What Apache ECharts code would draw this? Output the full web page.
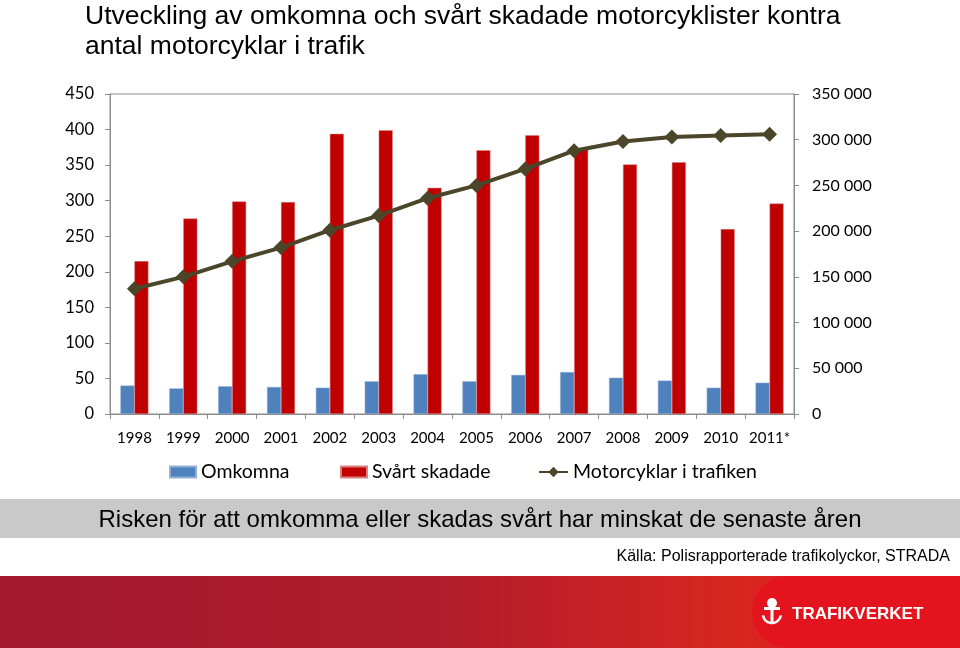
<!DOCTYPE html>
<html>
<head>
<meta charset="utf-8">
<script src="https://cdn.jsdelivr.net/npm/echarts@6/dist/echarts.min.js"></script>
<style>
html,body{margin:0;padding:0;background:#fff;}
#chart{width:960px;height:648px;}
</style>
</head>
<body>
<div id="chart"></div>
<script>
const years = ['1998','1999','2000','2001','2002','2003','2004','2005','2006','2007','2008','2009','2010','2011*'];
const omkomna = [40, 36, 39, 38, 37, 46, 56, 46, 55, 59, 51, 47, 37, 44];
const svartSkadade = [215, 275, 299, 298, 394, 399, 318, 371, 392, 373, 351, 354, 260, 296];
const motorcyklar = [137000, 150000, 167000, 182000, 201000, 217000, 236000, 250000, 268000, 288000, 298000, 303000, 304500, 306000];
const leftTicks = {min: 0, max: 450, interval: 50};
const rightTicks = {min: 0, max: 350000, interval: 50000};

const chart = echarts.init(document.getElementById('chart'), null, {renderer: 'canvas'});
const axisFont = 'Lato, "Open Sans", sans-serif';
const arialFont = '"Liberation Sans", Arial, sans-serif';
const fmtThousands = v => String(v).replace(/\B(?=(\d{3})+(?!\d))/g, ' ');
const legendText = {fontFamily: axisFont, fontSize: 19.5, color: '#000'};

chart.setOption({
  animation: false,
  backgroundColor: '#fff',
  title: {
    text: 'Utveckling av omkomna och svårt skadade motorcyklister kontra\nantal motorcyklar i trafik',
    left: 80, top: -3,
    textStyle: {fontFamily: arialFont, fontSize: 26.5, fontWeight: 'normal', color: '#000', lineHeight: 30}
  },
  grid: {left: 110, right: 166, top: 94, bottom: 234, show: true, borderColor: '#8c8c8c', borderWidth: 1, backgroundColor: 'transparent'},
  legend: [
    {left: 164, top: 457, itemWidth: 26, itemHeight: 11, textStyle: legendText,
     data: [{name: 'Omkomna', icon: 'rect'}]},
    {left: 335, top: 457, itemWidth: 26, itemHeight: 11, textStyle: legendText,
     data: [{name: 'Svårt skadade', icon: 'rect'}]},
    {left: 533, top: 457, itemWidth: 29, itemHeight: 13, textStyle: legendText,
     data: [{name: 'Motorcyklar i trafiken'}]}
  ],
  xAxis: {
    type: 'category', data: years, boundaryGap: true,
    axisLine: {lineStyle: {color: '#8c8c8c'}},
    axisTick: {show: true, length: 5, lineStyle: {color: '#8c8c8c'}},
    axisLabel: {fontFamily: axisFont, fontSize: 15, color: '#000', margin: 17, interval: 0}
  },
  yAxis: [
    {
      type: 'value', min: leftTicks.min, max: leftTicks.max, interval: leftTicks.interval,
      axisLine: {show: true, lineStyle: {color: '#8c8c8c'}},
      axisTick: {show: true, length: 5, lineStyle: {color: '#8c8c8c'}},
      splitLine: {show: false},
      axisLabel: {fontFamily: axisFont, fontSize: 16.5, color: '#000', margin: 16}
    },
    {
      type: 'value', min: rightTicks.min, max: rightTicks.max, interval: rightTicks.interval,
      position: 'right',
      axisLine: {show: true, lineStyle: {color: '#8c8c8c'}},
      axisTick: {show: true, length: 5, lineStyle: {color: '#8c8c8c'}},
      splitLine: {show: false},
      axisLabel: {fontFamily: axisFont, fontSize: 16, color: '#000', margin: 18, formatter: fmtThousands}
    }
  ],
  series: [
    {name: 'Omkomna', type: 'bar', data: omkomna, barWidth: 14, barGap: '0%',
     itemStyle: {color: '#4f81bd', borderColor: '#8fb0d8', borderWidth: 0.5}},
    {name: 'Svårt skadade', type: 'bar', data: svartSkadade, barWidth: 14, barGap: '0%',
     itemStyle: {color: '#c00000', borderColor: '#d98080', borderWidth: 0.5}},
    {name: 'Motorcyklar i trafiken', type: 'line', yAxisIndex: 1, data: motorcyklar,
     symbol: 'diamond', symbolSize: 15,
     lineStyle: {color: '#4b4629', width: 4},
     itemStyle: {color: '#4b4629'}, z: 5}
  ],
  graphic: [
    {type: 'rect', shape: {x: 0, y: 499, width: 960, height: 39}, style: {fill: '#c9c9c9'}, silent: true},
    {type: 'text', x: 480, y: 520, style: {text: 'Risken för att omkomma eller skadas svårt har minskat de senaste åren', fontFamily: arialFont, fontSize: 24, fill: '#000', align: 'center', verticalAlign: 'middle'}},
    {type: 'text', x: 950, y: 557, style: {text: 'Källa: Polisrapporterade trafikolyckor, STRADA', fontFamily: arialFont, fontSize: 16, fill: '#000', align: 'right', verticalAlign: 'middle'}},
    {type: 'rect', shape: {x: 0, y: 576, width: 960, height: 72},
     style: {fill: new echarts.graphic.LinearGradient(0, 0, 1, 0, [
       {offset: 0, color: '#a3192e'}, {offset: 0.45, color: '#b01c2c'}, {offset: 0.77, color: '#d8261f'}, {offset: 1, color: '#e2161f'}])}, silent: true},
    {type: 'rect', shape: {x: 752, y: 576, width: 230, height: 72, r: [40, 0, 0, 40]}, style: {fill: '#e3141d'}, silent: true},
    {type: 'text', x: 792, y: 614, style: {text: 'TRAFIKVERKET', fontFamily: arialFont, fontSize: 17, fontWeight: 'bold', fill: '#fff', align: 'left', verticalAlign: 'middle'}},
    {type: 'circle', shape: {cx: 772, cy: 603, r: 5}, style: {fill: '#fff'}},
    {type: 'rect', shape: {x: 764, y: 607, width: 16, height: 3}, style: {fill: '#fff'}},
    {type: 'rect', shape: {x: 770.5, y: 609, width: 3, height: 15}, style: {fill: '#fff'}},
    {type: 'arc', shape: {cx: 772, cy: 614, r: 9, startAngle: 0.15, endAngle: Math.PI - 0.15}, style: {stroke: '#fff', lineWidth: 2.5, fill: 'none'}}
  ]
});
</script>
</body>
</html>
